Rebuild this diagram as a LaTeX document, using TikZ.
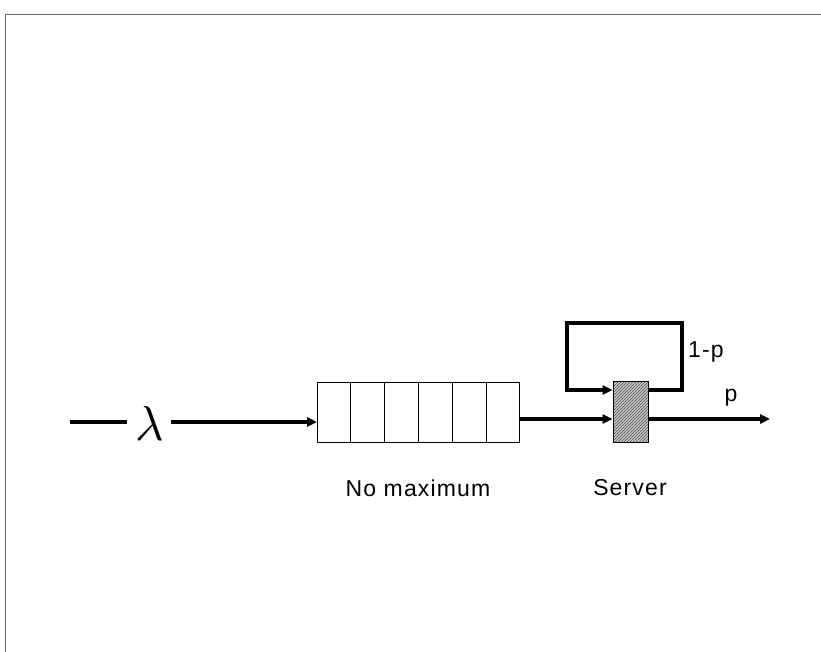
\documentclass[tikz,border=0pt]{standalone}
\usepackage{fontspec}
\setmainfont{Liberation Sans}
\usetikzlibrary{arrows.meta,patterns}
\begin{document}
\begin{tikzpicture}[x=1pt,y=-1pt,
  flow/.style={line width=3.4pt,-{Triangle[length=10pt,width=9pt]}},
  plain/.style={line width=3.4pt},
  cell/.style={draw,line width=0.8pt,minimum width=33.8pt,minimum height=60pt,inner sep=0pt,outer sep=0pt},
  lbl/.style={font=\fontsize{23}{25}\selectfont\addfontfeature{LetterSpace=5},inner sep=0pt},
  frame/.style={draw=black!60,line width=0.8pt}]
\useasboundingbox (0,0) rectangle (821,652);
% scan frame
\draw[frame] (5,652) -- (5,14) -- (821,14);
% input
\coordinate (in0) at (70,422);
\coordinate (in1) at (127,422);
\node[inner sep=0pt] (lam) at (150,423) {\scalebox{4.9}{$\lambda$}};
\coordinate (lamE) at (171,422);
\draw[plain] (in0) -- (in1);
% queue cells
\foreach \i in {1,...,6} {
  \node[cell] (c\i) at ({317+33.8*(\i-0.5)},412) {};
}
\draw[flow] (lamE) -- (c1.west |- lamE);
% server
\node (srv) [draw,line width=0.8pt,fill=gray!40,minimum width=35pt,minimum height=61pt,inner sep=0pt] at (630.5,411.5) {};
\node (srvh) [draw,line width=0.8pt,pattern=north east lines,pattern color=black!70,minimum width=35pt,minimum height=61pt,inner sep=0pt] at (630.5,411.5) {};
% queue to server
\draw[flow] (c6.east |- 0,419) -- (srv.west |- 0,419);
% feedback loop
\coordinate (fbR) at (682,323);
\coordinate (fbL) at (567,323);
\draw[line width=3.8pt,line join=miter,-{Triangle[length=10pt,width=9pt]}]
  (srv.east |- 0,390) -- (fbR |- 0,390) -- (fbR) -- (fbL) -- (fbL |- 0,390) -- (srv.west |- 0,390);
% output
\coordinate (out) at (770,419);
\draw[flow] (srv.east |- 0,419) -- (out);
% labels
\node[lbl,anchor=west] (lq) at (688,352) {1-p};
\node[lbl] (lp) at (731,398) {p};
\node[lbl] (lnm) at (418,488) {No maximum};
\node[lbl] (lsv) at (630,488) {Server};
\end{tikzpicture}
\end{document}
